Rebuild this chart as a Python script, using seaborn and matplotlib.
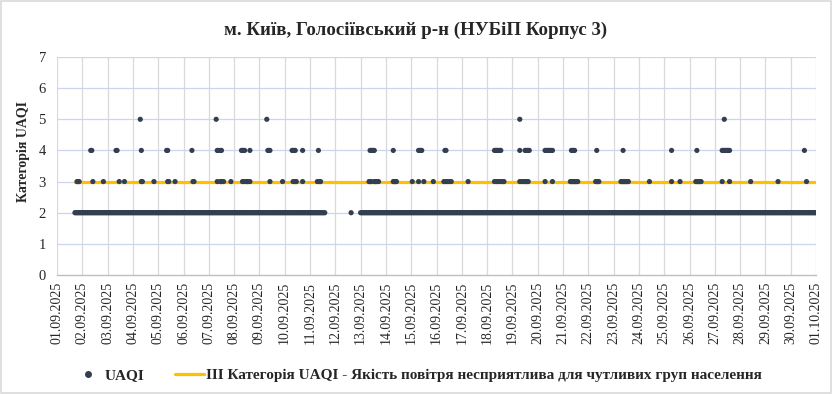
import numpy as np
import pandas as pd
import matplotlib
matplotlib.use("Agg")
import matplotlib.pyplot as plt
from matplotlib.lines import Line2D
import seaborn as sns

# ---- data (hours since 01.09.2025 00:00) ----
runs2_start = [17, 279, 288]      # continuous stretches at category 2
runs2_end = [254, 279, 720]
hours_3 = [19, 20, 21, 34, 44, 59, 64, 80, 81, 92, 105, 106, 112,
           129, 130, 152, 155, 156, 158, 165, 176, 178, 180, 181, 183,
           202, 214, 224, 226, 227, 233, 247, 249, 250,
           296, 297, 298, 301, 302, 303, 305, 319, 320, 321, 322, 337, 343, 348, 357,
           367, 368, 370, 372, 374, 390, 415, 417, 419, 421, 423, 424,
           439, 441, 443, 444, 446, 447, 463, 470,
           487, 488, 489, 490, 491, 492, 493, 494, 511, 512, 513, 514,
           535, 536, 537, 538, 539, 540, 541, 542, 562, 583, 591,
           606, 607, 608, 609, 610, 611, 631, 638, 658, 684, 711]
hours_4 = [32, 33, 56, 57, 80, 104, 105, 128, 152, 153, 155, 156,
           175, 176, 177, 178, 183, 200, 201, 202, 223, 224, 225, 226, 233,
           248, 297, 298, 299, 300, 301, 319, 343, 344, 345, 346,
           368, 369, 415, 416, 417, 418, 419, 420, 421, 439, 444, 445, 446, 447, 448,
           463, 464, 465, 466, 467, 468, 469, 470, 488, 489, 490, 491, 512, 537, 583,
           607, 631, 632, 633, 634, 635, 636, 637, 638, 709]
hours_5 = [79, 151, 199, 439, 633]
threshold = 3
tick_labels = ["01.09.2025", "02.09.2025", "03.09.2025", "04.09.2025", "05.09.2025",
               "06.09.2025", "07.09.2025", "08.09.2025", "09.09.2025", "10.09.2025",
               "11.09.2025", "12.09.2025", "13.09.2025", "14.09.2025", "15.09.2025",
               "16.09.2025", "17.09.2025", "18.09.2025", "19.09.2025", "20.09.2025",
               "21.09.2025", "22.09.2025", "23.09.2025", "24.09.2025", "25.09.2025",
               "26.09.2025", "27.09.2025", "28.09.2025", "29.09.2025", "30.09.2025",
               "01.10.2025"]

title = "м. Київ, Голосіївський р-н (НУБіП Корпус 3)"
ylabel = "Категорія UAQI"
leg1 = "UAQI"
leg2 = "III Категорія UAQI - Якість повітря несприятлива для чутливих груп населення"

# ---- assemble ----
rows = []
for s, e in zip(runs2_start, runs2_end):
    for h in range(s, e + 1):
        rows.append((h, 2))
for h in hours_3:
    rows.append((h, 3))
for h in hours_4:
    rows.append((h, 4))
for h in hours_5:
    rows.append((h, 5))
df = pd.DataFrame(rows, columns=["hour", "uaqi"])
line_df = pd.DataFrame({"hour": [runs2_start[0], runs2_end[-1]],
                        "level": [threshold, threshold]})

sns.set_style("white")
plt.rcParams["font.family"] = ["Liberation Serif", "DejaVu Serif"]

DOT = "#333F50"
ORANGE = "#FFC000"

fig = plt.figure(figsize=(8.32, 3.94), dpi=100)
ax = fig.add_axes([57 / 832, 1 - 275 / 394, (816 - 57) / 832, (275 - 57) / 394])

n_days = len(tick_labels) - 1
for d in range(len(tick_labels)):
    ax.axvline(d * 24, color="#D9D9D9", lw=0.9, zorder=0)
for yv in range(1, 8):
    ax.axhline(yv, color="#C9D6EE", lw=0.9, zorder=0)

sns.lineplot(data=line_df, x="hour", y="level", color=ORANGE, lw=2.3, ax=ax, zorder=2)
sns.scatterplot(data=df, x="hour", y="uaqi", color=DOT, s=14, linewidth=0,
                edgecolor="none", ax=ax, zorder=3)

ax.set_xlim(0, n_days * 24)
ax.set_ylim(0, 7)
ax.set_xticks([d * 24 for d in range(len(tick_labels))])
ax.set_xticklabels(tick_labels, rotation=90, fontsize=10)
ax.set_yticks(range(0, 8))
ax.set_yticklabels([str(v) for v in range(0, 8)], fontsize=10.5)
ax.tick_params(axis="both", length=0)
ax.tick_params(axis="x", pad=5)
ax.tick_params(axis="y", pad=8)
ax.set_xlabel("")
ax.set_ylabel(ylabel, fontsize=10, fontweight="bold")
ax.yaxis.set_label_coords(-0.036, 0.566)
for side in ["top", "right", "left"]:
    ax.spines[side].set_visible(False)
ax.spines["bottom"].set_color("#BFBFBF")
ax.spines["bottom"].set_linewidth(1.0)
if ax.get_legend() is not None:
    ax.get_legend().remove()

fig.text(0.5, 1 - 30 / 394, title, ha="center", va="center", fontsize=13.6,
         fontweight="bold")

handles = [Line2D([], [], marker="o", ls="none", color=DOT, markersize=4),
           Line2D([], [], color=ORANGE, lw=2.3)]
fig.legend(handles, [leg1, leg2], loc="center", bbox_to_anchor=(0.502, 1 - 375 / 394),
           ncol=2, frameon=False, prop={"weight": "bold", "size": 11},
           handlelength=1.9, handletextpad=0.15, columnspacing=2.0)

border = plt.Rectangle((0.0015, 0.002), 0.997, 0.995, transform=fig.transFigure,
                       fill=False, edgecolor="#D9D9D9", lw=1.2)
fig.patches.append(border)

fig.savefig("out.png", dpi=100)
